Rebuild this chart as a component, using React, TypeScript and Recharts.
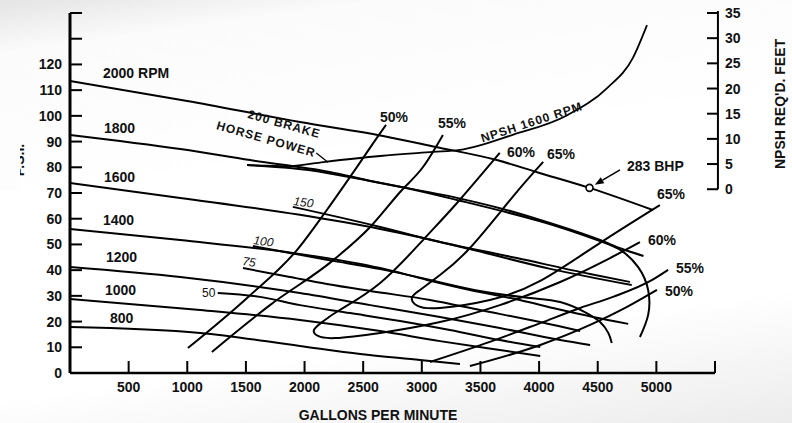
import React from "react";
import {
  ComposedChart,
  Line,
  Scatter,
  XAxis,
  YAxis,
  ReferenceLine,
} from "recharts";

// ---- head curves (GPM vs PSI) at each speed ----
const rpm2000Gpm = [0, 1000, 1960, 2670, 3110, 3640, 3990, 4430, 4970];
const rpm2000Psi = [113.6, 105.8, 97.6, 92.2, 88.0, 82.8, 78.0, 72.0, 63.4];
const rpm1800Gpm = [0, 940, 1535, 2215, 2560, 3300, 3690, 4010, 4520, 4710, 4890];
const rpm1800Psi = [92.6, 87.1, 82.8, 78.2, 74.7, 68.1, 63.8, 59.5, 51.7, 48.2, 45.5];
const rpm1600Gpm = [0, 940, 1960, 2645, 3010, 3410, 4095, 4790];
const rpm1600Psi = [73.9, 68.1, 61.5, 56.0, 52.5, 48.2, 40.5, 34.2];
const rpm1400Gpm = [0, 940, 1900, 2645, 3045, 3410, 3835, 4155, 4460, 4760];
const rpm1400Psi = [56.0, 51.7, 46.7, 40.8, 36.2, 32.3, 28.4, 24.9, 21.8, 19.1];
const rpm1200Gpm = [0, 940, 1960, 2560, 3155, 3665, 4180, 4435];
const rpm1200Psi = [41.2, 37.3, 31.1, 26.4, 21.8, 17.5, 12.8, 10.9];
const rpm1000Gpm = [0, 1110, 1960, 2645, 3155, 3665, 4010];
const rpm1000Psi = [28.8, 24.5, 20.6, 16.3, 12.4, 8.9, 6.6];
const rpm800Gpm = [0, 1110, 1960, 2475, 2985, 3325];
const rpm800Psi = [17.9, 15.6, 10.5, 7.4, 5.1, 3.5];

// ---- brake horsepower curves ----
const bhp200Gpm = [1510, 1875, 2215, 2815, 3325, 4010, 4520, 4705, 4845, 4930, 4930, 4860];
const bhp200Psi = [80.9, 79.7, 77.6, 72.4, 67.0, 59.0, 51.3, 47.5, 41.2, 32.3, 22.6, 14.0];
const bhp150Gpm = [1900, 2645, 3045, 3810, 4435, 4775];
const bhp150Psi = [64.6, 56.8, 52.1, 44.7, 38.5, 35.4];
const bhp100Gpm = [1560, 1875, 2245, 2645, 3070, 3495, 3920, 4180, 4390, 4520, 4590, 4620];
const bhp100Psi = [49.4, 46.7, 43.6, 40.4, 36.2, 31.9, 29.2, 27.6, 23.7, 19.8, 15.6, 11.7];
const bhp75Gpm = [1475, 1875, 2190, 2560, 3070, 3495, 4010, 4350];
const bhp75Psi = [40.8, 37.3, 34.6, 31.9, 28.4, 24.5, 19.8, 16.3];
const bhp50Gpm = [1260, 1620, 1960, 2390, 2815, 3240, 3665, 4010];
const bhp50Psi = [31.1, 29.6, 26.4, 23.3, 20.2, 16.7, 12.8, 10.1];

// ---- efficiency contours ----
const eff50LeftGpm = [1005, 1510, 1935, 2190, 2430, 2645, 2695];
const eff50LeftPsi = [9.7, 29.2, 47.8, 63.4, 79.0, 93.3, 96.5];
const eff50RightGpm = [3410, 4010, 4435, 4750, 5005];
const eff50RightPsi = [2.7, 10.9, 18.7, 25.7, 32.3];
const eff55LeftGpm = [1210, 1705, 2245, 2560, 2815, 3010, 3180];
const eff55LeftPsi = [8.2, 26.4, 43.9, 56.8, 70.4, 80.1, 92.6];
const eff55RightGpm = [3070, 3580, 4010, 4350, 4630, 4965, 5100];
const eff55RightPsi = [4.3, 12.1, 19.4, 25.3, 29.6, 36.2, 40.1];
const eff60Gpm = [3665, 3300, 3010, 2645, 2300, 2150, 2080, 2115, 2260, 2645, 3155, 3665, 4180, 4605, 4860];
const eff60Psi = [85.6, 66.1, 51.7, 35.0, 24.5, 19.8, 16.7, 14.4, 13.6, 15.6, 19.8, 26.4, 35.4, 44.7, 50.9];
const eff65Gpm = [4035, 3775, 3410, 3155, 2985, 2915, 2965, 3155, 3580, 4010, 4520, 5030];
const eff65Psi = [82.1, 68.5, 48.6, 38.1, 32.3, 29.2, 26.1, 25.3, 28.4, 35.8, 50.6, 65.3];

// ---- NPSH required at 1600 rpm (feet, right axis) ----
const npshGpm = [1510, 1875, 2160, 2645, 3095, 3325, 3775, 4240, 4580, 4800, 4920];
const npshFeet = [4.8, 4.6, 5.4, 6.6, 7.4, 7.8, 10.8, 14.7, 20.1, 26.1, 32.6];

const bhp283Gpm = [4430];
const bhp283Psi = [72.0];

const gpmTicks = [0, 500, 1000, 1500, 2000, 2500, 3000, 3500, 4000, 4500, 5000, 5500];
const psiTicks = [0, 10, 20, 30, 40, 50, 60, 70, 80, 90, 100, 110, 120, 130, 140];
const npshTicks = [0, 5, 10, 15, 20, 25, 30, 35];

const pts = (xs: number[], ys: number[]) => xs.map((x, i) => ({ x, y: ys[i] }));

const FONT = "'Liberation Sans', Arial, Helvetica, sans-serif";

// series that run left to right get a monotone curve, loops and arcs a natural one
const leftSeries: { d: { x: number; y: number }[]; curve: "monotone" | "natural" }[] = [
  { d: pts(rpm2000Gpm, rpm2000Psi), curve: "monotone" },
  { d: pts(rpm1800Gpm, rpm1800Psi), curve: "monotone" },
  { d: pts(rpm1600Gpm, rpm1600Psi), curve: "monotone" },
  { d: pts(rpm1400Gpm, rpm1400Psi), curve: "monotone" },
  { d: pts(rpm1200Gpm, rpm1200Psi), curve: "monotone" },
  { d: pts(rpm1000Gpm, rpm1000Psi), curve: "monotone" },
  { d: pts(rpm800Gpm, rpm800Psi), curve: "monotone" },
  { d: pts(bhp200Gpm, bhp200Psi), curve: "natural" },
  { d: pts(bhp150Gpm, bhp150Psi), curve: "monotone" },
  { d: pts(bhp100Gpm, bhp100Psi), curve: "natural" },
  { d: pts(bhp75Gpm, bhp75Psi), curve: "monotone" },
  { d: pts(bhp50Gpm, bhp50Psi), curve: "monotone" },
  { d: pts(eff50LeftGpm, eff50LeftPsi), curve: "monotone" },
  { d: pts(eff50RightGpm, eff50RightPsi), curve: "monotone" },
  { d: pts(eff55LeftGpm, eff55LeftPsi), curve: "monotone" },
  { d: pts(eff55RightGpm, eff55RightPsi), curve: "monotone" },
  { d: pts(eff60Gpm, eff60Psi), curve: "natural" },
  { d: pts(eff65Gpm, eff65Psi), curve: "natural" },
];

const LeftTick = (props: any) => {
  const { y, payload } = props;
  const v = payload.value;
  return (
    <g>
      {v > 0 && <line x1={70} x2={82} y1={y} y2={y} stroke="#000" strokeWidth={2} />}
      {v <= 120 && (
        <text x={62} y={y} dy={5} textAnchor="end" fontFamily={FONT} fontWeight="bold" fontSize={14} fill="#111">
          {v}
        </text>
      )}
    </g>
  );
};

const BottomTick = (props: any) => {
  const { x, payload } = props;
  const v = payload.value;
  return (
    <g>
      {v > 0 && <line x1={x} x2={x} y1={373} y2={361} stroke="#000" strokeWidth={2} />}
      {v > 0 && v <= 5000 && (
        <text x={x} y={392} textAnchor="middle" fontFamily={FONT} fontWeight="bold" fontSize={14} fill="#111">
          {v}
        </text>
      )}
    </g>
  );
};

const RightTick = (props: any) => {
  const { y, payload } = props;
  return (
    <g>
      <line x1={707} x2={718} y1={y} y2={y} stroke="#000" strokeWidth={2} />
      <text x={725} y={y} dy={5} textAnchor="start" fontFamily={FONT} fontWeight="bold" fontSize={14} fill="#111">
        {payload.value}
      </text>
    </g>
  );
};

const ArrowShape = (props: any) => {
  const { x1, y1, x2, y2 } = props;
  const ang = Math.atan2(y2 - y1, x2 - x1);
  const L = 9;
  const W = 3.5;
  const bx = x2 - L * Math.cos(ang);
  const by = y2 - L * Math.sin(ang);
  const px = -Math.sin(ang) * W;
  const py = Math.cos(ang) * W;
  return (
    <g>
      <line x1={x1} y1={y1} x2={bx} y2={by} stroke="#000" strokeWidth={1.5} />
      <polygon points={`${x2},${y2} ${bx + px},${by + py} ${bx - px},${by - py}`} fill="#000" />
    </g>
  );
};

const OpenCircle = (props: any) => (
  <circle cx={props.cx} cy={props.cy} r={3.5} fill="#fff" stroke="#000" strokeWidth={1.6} />
);

const t = (s: string, x: number, y: number, size = 14, extra: any = {}) => (
  <text x={x} y={y} fontFamily={FONT} fontWeight="bold" fontSize={size} fill="#111" {...extra}>
    {s}
  </text>
);

export default function App() {
  return (
    <div
      style={{
        position: "absolute",
        left: 0,
        top: 0,
        width: 792,
        height: 423,
        overflow: "hidden",
        background:
          "linear-gradient(172deg, #e4e4e4 0%, #fbfbfb 10%, #ffffff 40%, #ffffff 75%, #ececec 100%)",
      }}
    >
      <ComposedChart width={792} height={423} margin={{ top: 13, right: 0, bottom: 0, left: 0 }}>
        <XAxis
          type="number"
          dataKey="x"
          domain={[0, 5500]}
          ticks={gpmTicks}
          interval={0}
          height={50}
          allowDataOverflow
          tickLine={false}
          axisLine={{ stroke: "#000", strokeWidth: 2.5 }}
          tick={BottomTick}
        />
        <YAxis
          yAxisId="left"
          type="number"
          domain={[0, 140]}
          ticks={psiTicks}
          interval={0}
          width={70}
          allowDataOverflow
          tickLine={false}
          axisLine={{ stroke: "#000", strokeWidth: 3 }}
          tick={LeftTick}
        />
        <YAxis
          yAxisId="right"
          orientation="right"
          type="number"
          domain={[-36.5, 35]}
          ticks={npshTicks}
          interval={0}
          width={77}
          allowDataOverflow
          tickLine={false}
          axisLine={false}
          tick={RightTick}
        />
        <ReferenceLine
          yAxisId="right"
          segment={[{ x: 5525, y: 0 }, { x: 5525, y: 35.4 }]}
          stroke="#000"
          strokeWidth={2}
          ifOverflow="visible"
        />
        {leftSeries.map((s, i) => (
          <Line
            key={i}
            yAxisId="left"
            data={s.d}
            dataKey="y"
            type={s.curve}
            stroke="#000"
            strokeWidth={2}
            dot={false}
            activeDot={false}
            isAnimationActive={false}
          />
        ))}
        <Line
          yAxisId="right"
          data={pts(npshGpm, npshFeet)}
          dataKey="y"
          type="monotone"
          stroke="#000"
          strokeWidth={1.8}
          dot={false}
          activeDot={false}
          isAnimationActive={false}
        />
        <ReferenceLine
          yAxisId="left"
          segment={[{ x: 4690, y: 79.0 }, { x: 4475, y: 73.2 }]}
          ifOverflow="visible"
          shape={ArrowShape}
        />
        <ReferenceLine
          yAxisId="left"
          segment={[{ x: 2100, y: 85.6 }, { x: 2200, y: 82.0 }]}
          stroke="#000"
          strokeWidth={1.3}
          ifOverflow="visible"
        />
        <Scatter
          yAxisId="left"
          data={pts(bhp283Gpm, bhp283Psi)}
          dataKey="y"
          shape={OpenCircle}
          isAnimationActive={false}
        />
      </ComposedChart>
      <svg
        width={792}
        height={423}
        style={{ position: "absolute", left: 0, top: 0, pointerEvents: "none" }}
      >
        {t("2000 RPM", 103, 78)}
        {t("1800", 104, 133)}
        {t("1600", 104, 182)}
        {t("1400", 103, 225)}
        {t("1200", 106, 262)}
        {t("1000", 105, 295)}
        {t("800", 110, 323)}

        {t("150", 293, 205, 12, { fontWeight: "normal", fontStyle: "italic", transform: "rotate(8 293 205)" })}
        {t("100", 253, 244, 12, { fontWeight: "normal", fontStyle: "italic", transform: "rotate(8 253 244)" })}
        {t("75", 242, 265, 12, { fontWeight: "normal", fontStyle: "italic", transform: "rotate(8 242 265)" })}
        {t("50", 202, 297, 12, { fontWeight: "normal" })}

        {t("200 BRAKE", 283, 128, 12, { textAnchor: "middle", letterSpacing: 1, transform: "rotate(16 283 128)" })}
        {t("HORSE POWER", 265, 143, 12, { textAnchor: "middle", letterSpacing: 1, transform: "rotate(16 265 143)" })}
        {t("NPSH 1600 RPM", 533, 126, 12, { textAnchor: "middle", letterSpacing: 1, transform: "rotate(-18 533 126)" })}

        {t("50%", 380, 122)}
        {t("55%", 438, 128)}
        {t("60%", 507, 157)}
        {t("65%", 547, 159)}
        {t("65%", 657, 199)}
        {t("60%", 648, 245)}
        {t("55%", 676, 273)}
        {t("50%", 665, 296)}
        {t("283 BHP", 627, 171)}

        {t("GALLONS PER MINUTE", 378, 420, 14, { textAnchor: "middle" })}
        {t("NPSH REQ'D. FEET", 785, 104, 14, { textAnchor: "middle", transform: "rotate(-90 785 104)" })}
        {t("P.S.I.", 24, 160, 14, { textAnchor: "middle", transform: "rotate(-90 24 160)" })}
        <rect x={0} y={130} width={20} height={60} fill="#fdfdfd" />
      </svg>
    </div>
  );
}
